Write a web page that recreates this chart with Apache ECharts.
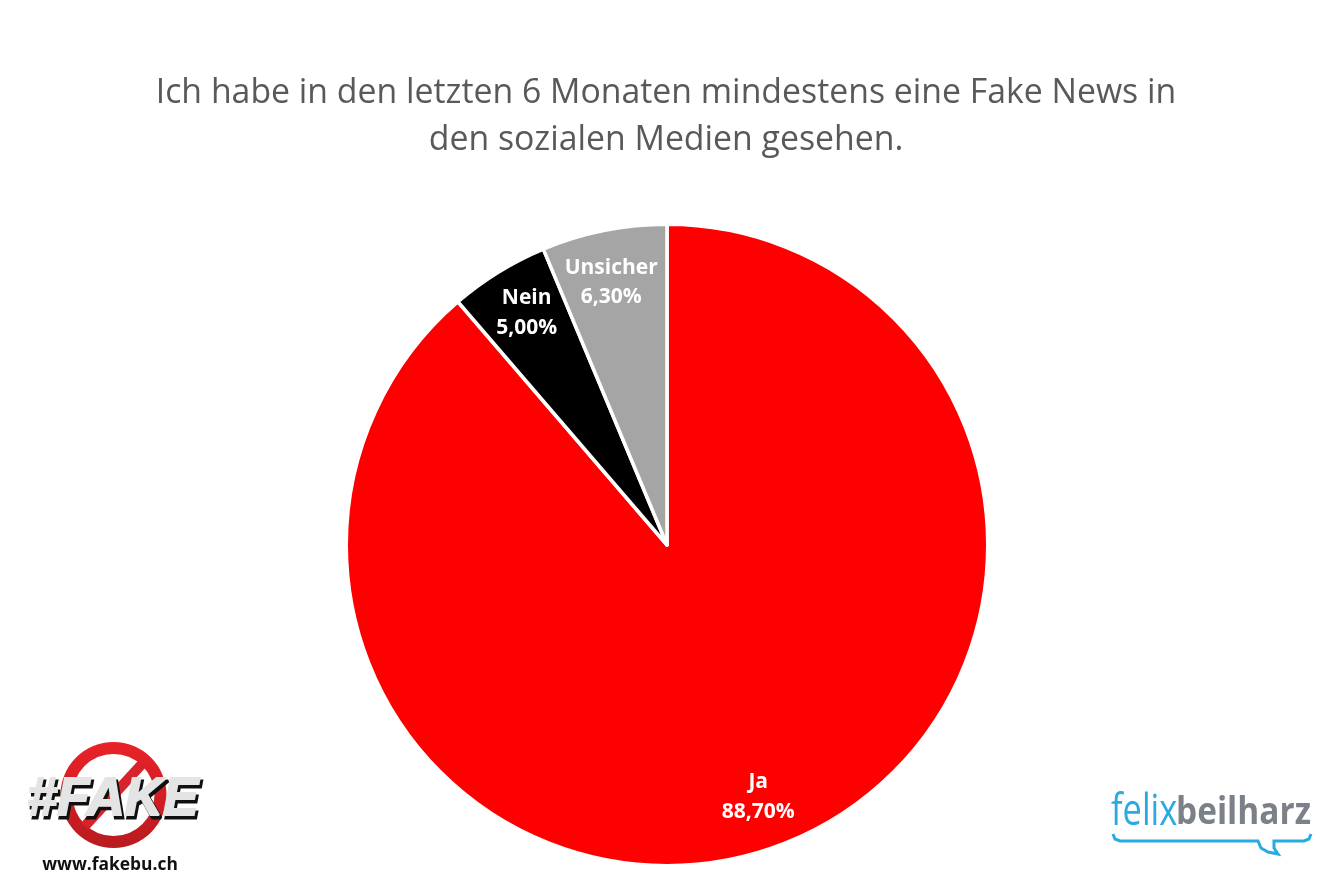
<!DOCTYPE html>
<html>
<head>
<meta charset="utf-8">
<style>
  html, body { margin: 0; padding: 0; background: #fff; }
  #chart { width: 1334px; height: 889px; }
</style>
<script src="https://cdn.jsdelivr.net/npm/echarts@6/dist/echarts.min.js"></script>
</head>
<body>
<div id="chart"></div>
<script>
// chart data
var titleText = "Ich habe in den letzten 6 Monaten mindestens eine Fake News in\nden sozialen Medien gesehen.";
var categories = ["Ja", "Nein", "Unsicher"];
var values = [88.7, 5.0, 6.3];
var colors = ["#ff0000", "#000000", "#a5a5a5"];

var pieData = categories.map(function (name, i) {
    return {name: name, value: values[i], itemStyle: {color: colors[i]}};
});

// german decimal comma
function percentLabel(p) {
    return p.name + "\n" + p.value.toFixed(2).replace(".", ",") + "%";
}

var blue = "#29abe2";
var logoRed = new echarts.graphic.LinearGradient(0, 0, 0, 1, [
    {offset: 0, color: "#ea2229"},
    {offset: 1, color: "#b81b1f"}
]);

var chart = echarts.init(document.getElementById("chart"));
chart.setOption({
    backgroundColor: "#ffffff",
    animation: false,
    title: {
        text: titleText,
        left: 661,
        top: 65,
        textAlign: "center",
        textStyle: {
            fontFamily: "Open Sans",
            fontWeight: "normal",
            fontSize: 33.8,
            lineHeight: 47,
            color: "#595959"
        }
    },
    series: [
        {
            type: "pie",
            center: [667, 545],
            radius: [0, 320.75],
            startAngle: 90,
            clockwise: true,
            silent: true,
            label: {show: false},
            labelLine: {show: false},
            itemStyle: {borderColor: "#ffffff", borderWidth: 3.5},
            data: pieData
        },
        {
            // transparent ring, only there to sit the labels near the rim
            type: "pie",
            center: [667, 545],
            radius: [216, 320],
            startAngle: 90,
            clockwise: true,
            silent: true,
            itemStyle: {color: "transparent"},
            labelLine: {show: false},
            label: {
                show: true,
                position: "inside",
                rotate: 0,
                formatter: percentLabel,
                fontFamily: "Open Sans",
                fontWeight: "bold",
                fontSize: 21,
                lineHeight: 29.5,
                color: "#ffffff"
            },
            labelLayout: function (params) {
                // small nudges, labels are not quite on the ring midline in the original
                if (params.dataIndex === 0) { return {dx: -3, dy: -2}; }
                if (params.dataIndex === 1) { return {dx: 2, dy: -1.5}; }
                return {dx: -2.5, dy: 3};
            },
            data: categories.map(function (name, i) {
                return {name: name, value: values[i]};
            })
        }
    ],
    graphic: [
        // #FAKE logo
        {type: "ring", shape: {cx: 113.5, cy: 795, r: 53, r0: 41}, style: {fill: logoRed}},
        {type: "line", shape: {x1: 142, y1: 764, x2: 85, y2: 826}, style: {stroke: "#d8232a", lineWidth: 10}},
        {
            type: "text", x: 115, y: 803,
            style: {
                text: "#FAKE", fontFamily: "Liberation Sans", fontWeight: "bold", fontStyle: "italic",
                fontSize: 53, fill: "#101010", stroke: "#101010", lineWidth: 3,
                align: "center", verticalAlign: "middle"
            }
        },
        {
            type: "text", x: 113, y: 800,
            style: {
                text: "#FAKE", fontFamily: "Liberation Sans", fontWeight: "bold", fontStyle: "italic",
                fontSize: 53, fill: "#e4e4e4", stroke: "#e4e4e4", lineWidth: 2,
                align: "center", verticalAlign: "middle"
            }
        },
        {
            type: "text", x: 110, y: 865,
            style: {
                text: "www.fakebu.ch", fontFamily: "Open Sans", fontWeight: "bold",
                fontSize: 17.4, fill: "#111111", align: "center", verticalAlign: "middle"
            }
        },
        // felixbeilharz logo
        {
            type: "text", x: 1111, y: 813, scaleX: 0.8,
            style: {
                text: "felix", fontFamily: "Open Sans", fontWeight: "normal", fontSize: 43,
                fill: blue, align: "left", verticalAlign: "middle"
            }
        },
        {
            type: "text", x: 1176, y: 813, scaleX: 0.88,
            style: {
                text: "beilharz", fontFamily: "Open Sans", fontWeight: "bold", fontSize: 38,
                fill: "#7b8188", align: "left", verticalAlign: "middle"
            }
        },
        // speech bubble under the logo
        {
            type: "polyline",
            shape: {points: [[1113, 834], [1115, 839], [1120, 841], [1258, 841], [1261, 848], [1268, 852], [1278, 854], [1274, 848], [1274, 841], [1304, 841], [1309, 839], [1311, 834]]},
            style: {fill: "none", stroke: blue, lineWidth: 3}
        }
    ]
});
</script>
</body>
</html>
